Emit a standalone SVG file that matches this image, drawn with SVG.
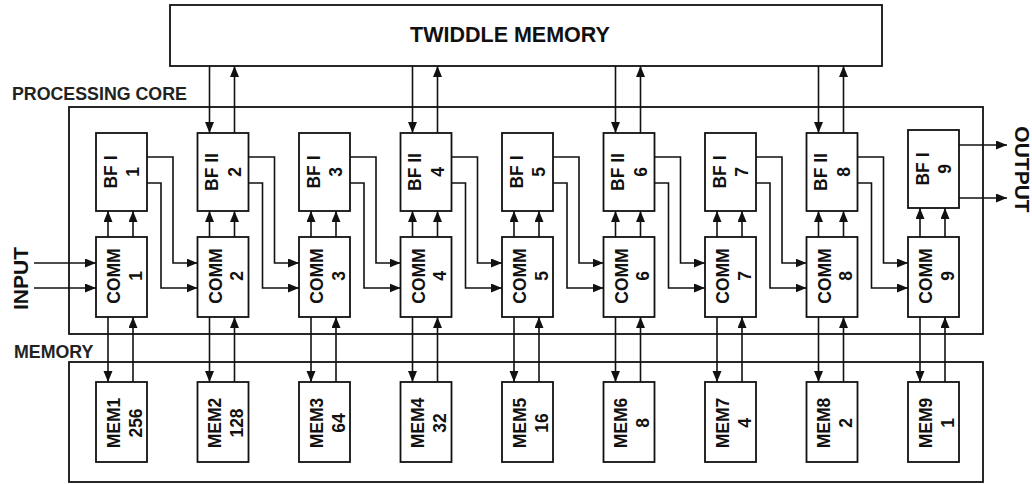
<svg xmlns="http://www.w3.org/2000/svg" width="1032" height="484" viewBox="0 0 1032 484">
<defs>
<marker id="ah" markerUnits="userSpaceOnUse" markerWidth="12" markerHeight="10" refX="11" refY="4.5" orient="auto"><path d="M0,0 L11,4.5 L0,9 z" fill="#111"/></marker>
<style>
.box{fill:#fff;stroke:#111;stroke-width:1.8}
.frame{fill:none;stroke:#111;stroke-width:1.8}
.t{font-family:"Liberation Sans",Arial,sans-serif;font-weight:bold;fill:#111}
.bt{font-family:"Liberation Sans",Arial,sans-serif;font-weight:bold;font-size:17.5px;fill:#111;text-anchor:middle}
.lbl{font-family:"Liberation Sans",Arial,sans-serif;font-weight:bold;font-size:17.8px;fill:#222}
.c{fill:none;stroke:#111;stroke-width:1.6;marker-end:url(#ah)}
</style>
</defs>
<rect width="1032" height="484" fill="#fff"/>

<g id="twiddle-memory"><rect class="box" x="170" y="5" width="712" height="61"/><text class="t" x="510" y="42" font-size="21.5" text-anchor="middle">TWIDDLE MEMORY</text></g>
<g id="processing-core"><rect class="frame" x="69" y="107" width="914" height="227"/><text class="lbl" x="12" y="100">PROCESSING CORE</text></g>
<g id="memory"><rect class="frame" x="69" y="362" width="914" height="120"/><text class="lbl" x="14" y="358">MEMORY</text></g>
<g id="input-label"><text class="t" font-size="21" text-anchor="middle" transform="translate(20,278.5) rotate(-90)" y="7.5">INPUT</text></g>
<g id="output-label"><text class="t" font-size="21" text-anchor="middle" transform="translate(1022,169.5) rotate(90)" y="7.5">OUTPUT</text></g>

<g id="bf1"><rect class="box" x="96" y="133" width="51" height="78"/><text class="bt" transform="translate(121.5,172) rotate(-90)"><tspan x="0" y="-5">BF I</tspan><tspan x="0" y="17.5">1</tspan></text></g>
<g id="bf2"><rect class="box" x="197.5" y="133" width="51" height="78"/><text class="bt" transform="translate(223,172) rotate(-90)"><tspan x="0" y="-5">BF II</tspan><tspan x="0" y="17.5">2</tspan></text></g>
<g id="bf3"><rect class="box" x="299" y="133" width="51" height="78"/><text class="bt" transform="translate(324.5,172) rotate(-90)"><tspan x="0" y="-5">BF I</tspan><tspan x="0" y="17.5">3</tspan></text></g>
<g id="bf4"><rect class="box" x="400.5" y="133" width="51" height="78"/><text class="bt" transform="translate(426,172) rotate(-90)"><tspan x="0" y="-5">BF II</tspan><tspan x="0" y="17.5">4</tspan></text></g>
<g id="bf5"><rect class="box" x="502" y="133" width="51" height="78"/><text class="bt" transform="translate(527.5,172) rotate(-90)"><tspan x="0" y="-5">BF I</tspan><tspan x="0" y="17.5">5</tspan></text></g>
<g id="bf6"><rect class="box" x="603.5" y="133" width="51" height="78"/><text class="bt" transform="translate(629,172) rotate(-90)"><tspan x="0" y="-5">BF II</tspan><tspan x="0" y="17.5">6</tspan></text></g>
<g id="bf7"><rect class="box" x="705" y="133" width="51" height="78"/><text class="bt" transform="translate(730.5,172) rotate(-90)"><tspan x="0" y="-5">BF I</tspan><tspan x="0" y="17.5">7</tspan></text></g>
<g id="bf8"><rect class="box" x="806.5" y="133" width="51" height="78"/><text class="bt" transform="translate(832,172) rotate(-90)"><tspan x="0" y="-5">BF II</tspan><tspan x="0" y="17.5">8</tspan></text></g>
<g id="bf9"><rect class="box" x="908" y="130" width="51" height="78"/><text class="bt" transform="translate(933.5,169) rotate(-90)"><tspan x="0" y="-5">BF I</tspan><tspan x="0" y="17.5">9</tspan></text></g>

<g id="comm1"><rect class="box" x="96" y="237" width="51" height="80"/><text class="bt" transform="translate(121.5,276) rotate(-90)"><tspan x="0" y="-1.5">COMM</tspan><tspan x="0" y="20">1</tspan></text></g>
<g id="comm2"><rect class="box" x="197.5" y="237" width="51" height="80"/><text class="bt" transform="translate(223,276) rotate(-90)"><tspan x="0" y="-1.5">COMM</tspan><tspan x="0" y="20">2</tspan></text></g>
<g id="comm3"><rect class="box" x="299" y="237" width="51" height="80"/><text class="bt" transform="translate(324.5,276) rotate(-90)"><tspan x="0" y="-1.5">COMM</tspan><tspan x="0" y="20">3</tspan></text></g>
<g id="comm4"><rect class="box" x="400.5" y="237" width="51" height="80"/><text class="bt" transform="translate(426,276) rotate(-90)"><tspan x="0" y="-1.5">COMM</tspan><tspan x="0" y="20">4</tspan></text></g>
<g id="comm5"><rect class="box" x="502" y="237" width="51" height="80"/><text class="bt" transform="translate(527.5,276) rotate(-90)"><tspan x="0" y="-1.5">COMM</tspan><tspan x="0" y="20">5</tspan></text></g>
<g id="comm6"><rect class="box" x="603.5" y="237" width="51" height="80"/><text class="bt" transform="translate(629,276) rotate(-90)"><tspan x="0" y="-1.5">COMM</tspan><tspan x="0" y="20">6</tspan></text></g>
<g id="comm7"><rect class="box" x="705" y="237" width="51" height="80"/><text class="bt" transform="translate(730.5,276) rotate(-90)"><tspan x="0" y="-1.5">COMM</tspan><tspan x="0" y="20">7</tspan></text></g>
<g id="comm8"><rect class="box" x="806.5" y="237" width="51" height="80"/><text class="bt" transform="translate(832,276) rotate(-90)"><tspan x="0" y="-1.5">COMM</tspan><tspan x="0" y="20">8</tspan></text></g>
<g id="comm9"><rect class="box" x="908" y="237" width="51" height="80"/><text class="bt" transform="translate(933.5,276) rotate(-90)"><tspan x="0" y="-1.5">COMM</tspan><tspan x="0" y="20">9</tspan></text></g>

<g id="mem1"><rect class="box" x="96" y="382" width="51" height="80"/><text class="bt" transform="translate(121.5,423) rotate(-90)"><tspan x="0" y="-2">MEM1</tspan><tspan x="0" y="20">256</tspan></text></g>
<g id="mem2"><rect class="box" x="197.5" y="382" width="51" height="80"/><text class="bt" transform="translate(223,423) rotate(-90)"><tspan x="0" y="-2">MEM2</tspan><tspan x="0" y="20">128</tspan></text></g>
<g id="mem3"><rect class="box" x="299" y="382" width="51" height="80"/><text class="bt" transform="translate(324.5,423) rotate(-90)"><tspan x="0" y="-2">MEM3</tspan><tspan x="0" y="20">64</tspan></text></g>
<g id="mem4"><rect class="box" x="400.5" y="382" width="51" height="80"/><text class="bt" transform="translate(426,423) rotate(-90)"><tspan x="0" y="-2">MEM4</tspan><tspan x="0" y="20">32</tspan></text></g>
<g id="mem5"><rect class="box" x="502" y="382" width="51" height="80"/><text class="bt" transform="translate(527.5,423) rotate(-90)"><tspan x="0" y="-2">MEM5</tspan><tspan x="0" y="20">16</tspan></text></g>
<g id="mem6"><rect class="box" x="603.5" y="382" width="51" height="80"/><text class="bt" transform="translate(629,423) rotate(-90)"><tspan x="0" y="-2">MEM6</tspan><tspan x="0" y="20">8</tspan></text></g>
<g id="mem7"><rect class="box" x="705" y="382" width="51" height="80"/><text class="bt" transform="translate(730.5,423) rotate(-90)"><tspan x="0" y="-2">MEM7</tspan><tspan x="0" y="20">4</tspan></text></g>
<g id="mem8"><rect class="box" x="806.5" y="382" width="51" height="80"/><text class="bt" transform="translate(832,423) rotate(-90)"><tspan x="0" y="-2">MEM8</tspan><tspan x="0" y="20">2</tspan></text></g>
<g id="mem9"><rect class="box" x="908" y="382" width="51" height="80"/><text class="bt" transform="translate(933.5,423) rotate(-90)"><tspan x="0" y="-2">MEM9</tspan><tspan x="0" y="20">1</tspan></text></g>

<g id="connectors">
<path class="c" d="M34,263 H96"/><path class="c" d="M34,288 H96"/>
<path class="c" d="M959,145 H1007"/><path class="c" d="M959,198 H1007"/>
<!-- COMM to BF -->
<path class="c" d="M108,237 V211"/><path class="c" d="M133,237 V211"/>
<path class="c" d="M209.5,237 V211"/><path class="c" d="M234.5,237 V211"/>
<path class="c" d="M311,237 V211"/><path class="c" d="M336,237 V211"/>
<path class="c" d="M412.5,237 V211"/><path class="c" d="M437.5,237 V211"/>
<path class="c" d="M514,237 V211"/><path class="c" d="M539,237 V211"/>
<path class="c" d="M615.5,237 V211"/><path class="c" d="M640.5,237 V211"/>
<path class="c" d="M717,237 V211"/><path class="c" d="M742,237 V211"/>
<path class="c" d="M818.5,237 V211"/><path class="c" d="M843.5,237 V211"/>
<path class="c" d="M920,237 V208"/><path class="c" d="M945,237 V208"/>
<!-- COMM <-> MEM -->
<path class="c" d="M108,317 V382"/><path class="c" d="M133,382 V317"/>
<path class="c" d="M209.5,317 V382"/><path class="c" d="M234.5,382 V317"/>
<path class="c" d="M311,317 V382"/><path class="c" d="M336,382 V317"/>
<path class="c" d="M412.5,317 V382"/><path class="c" d="M437.5,382 V317"/>
<path class="c" d="M514,317 V382"/><path class="c" d="M539,382 V317"/>
<path class="c" d="M615.5,317 V382"/><path class="c" d="M640.5,382 V317"/>
<path class="c" d="M717,317 V382"/><path class="c" d="M742,382 V317"/>
<path class="c" d="M818.5,317 V382"/><path class="c" d="M843.5,382 V317"/>
<path class="c" d="M920,317 V382"/><path class="c" d="M945,382 V317"/>
<!-- twiddle <-> BF II -->
<path class="c" d="M209.5,66 V133"/><path class="c" d="M234.5,133 V66"/>
<path class="c" d="M412.5,66 V133"/><path class="c" d="M437.5,133 V66"/>
<path class="c" d="M615.5,66 V133"/><path class="c" d="M640.5,133 V66"/>
<path class="c" d="M818.5,66 V133"/><path class="c" d="M843.5,133 V66"/>
<!-- stage links -->
<path class="c" d="M147,157 H173 V263 H197.5"/><path class="c" d="M147,183 H161 V288 H197.5"/>
<path class="c" d="M248.5,157 H274.5 V263 H299"/><path class="c" d="M248.5,183 H262.5 V288 H299"/>
<path class="c" d="M350,157 H376 V263 H400.5"/><path class="c" d="M350,183 H364 V288 H400.5"/>
<path class="c" d="M451.5,157 H477.5 V263 H502"/><path class="c" d="M451.5,183 H465.5 V288 H502"/>
<path class="c" d="M553,157 H579 V263 H603.5"/><path class="c" d="M553,183 H567 V288 H603.5"/>
<path class="c" d="M654.5,157 H680.5 V263 H705"/><path class="c" d="M654.5,183 H668.5 V288 H705"/>
<path class="c" d="M756,157 H782 V263 H806.5"/><path class="c" d="M756,183 H770 V288 H806.5"/>
<path class="c" d="M857.5,157 H883.5 V263 H908"/><path class="c" d="M857.5,183 H871.5 V288 H908"/>
</g>
</svg>
